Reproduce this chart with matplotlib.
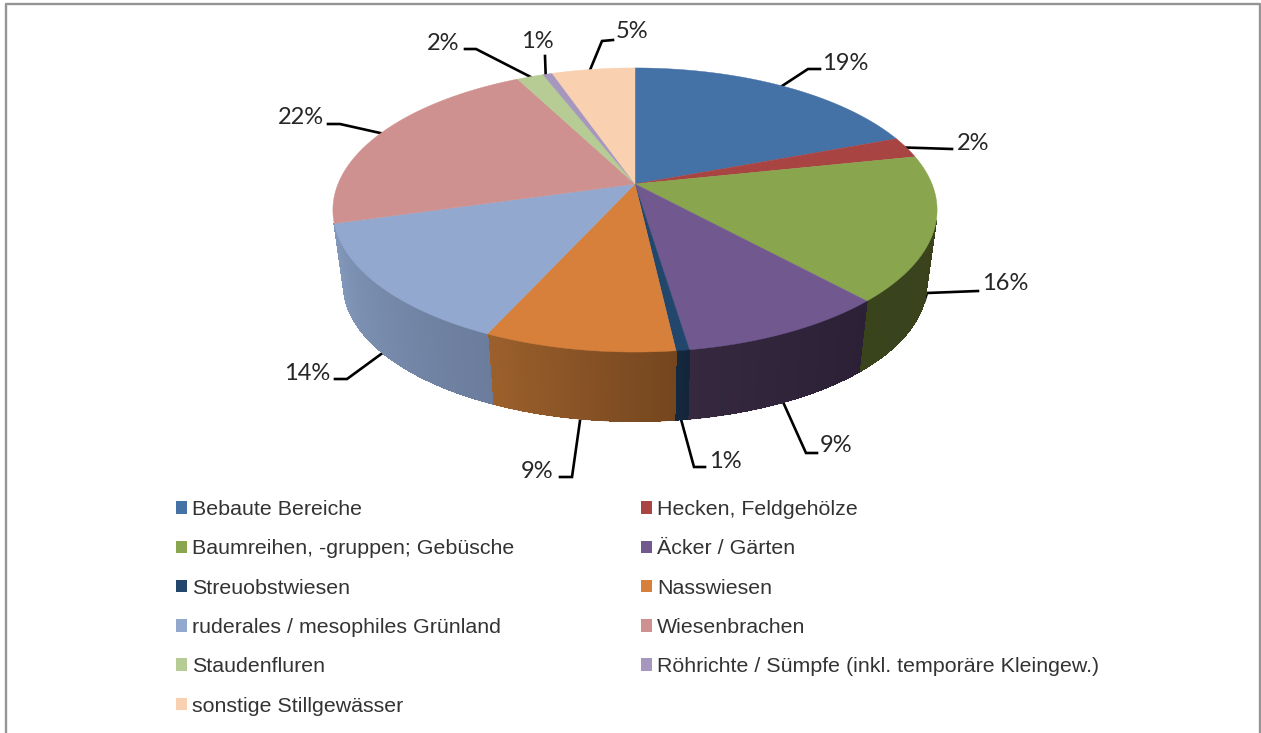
import numpy as np
import matplotlib
matplotlib.use("Agg")
import matplotlib.pyplot as plt
from matplotlib.patches import Patch
from matplotlib.collections import PolyCollection

categories = ["Bebaute Bereiche", "Hecken, Feldgehölze", "Baumreihen, -gruppen; Gebüsche",
              "Äcker / Gärten", "Streuobstwiesen", "Nasswiesen",
              "ruderales / mesophiles Grünland", "Wiesenbrachen", "Staudenfluren",
              "Röhrichte / Sümpfe (inkl. temporäre Kleingew.)", "sonstige Stillgewässer"]
shares = [19.3, 2.4, 16.5, 9.4, 0.6, 8.6, 13.8, 21.8, 1.7, 0.6, 5.3]
labels = ["19%", "2%", "16%", "9%", "1%", "9%", "14%", "22%", "2%", "1%", "5%"]

top_colors = ["#4471A6", "#A84442", "#89A54E", "#71588F", "#23466D", "#D6803B",
              "#92A8CF", "#CE918F", "#B7CC94", "#A597BD", "#F9D0B0"]
# side wall colours per slice, as seen from left to right on the picture
side_left = {2: "#39441D", 3: "#35283F", 4: "#14283F", 5: "#9C602C", 6: "#8298BA"}
side_right = {2: "#3A421C", 3: "#2B2036", 4: "#12253A", 5: "#74461F", 6: "#6B7C9C"}

# layout: elbow point, end point, label centre (pixels), lower rim flag, start offset
leader_layout = [((808, 69), (820, 69), (845, 64), False, (0, 0)),
                 ((921, 148), (952, 149), (973, 143), False, (0, 0)),
                 ((927, 293), (978, 291), (1005, 284), True, (0, 0)),
                 ((806, 453), (817, 453), (836, 446), True, (0, 0)),
                 ((694, 467), (705, 467), (725, 461), True, (0, 0)),
                 ((572, 477), (560, 477), (537, 471), True, (0, 0)),
                 ((347, 379), (335, 379), (307, 374), True, (-3, -6)),
                 ((340, 124), (328, 124), (301, 117), False, (0, 0)),
                 ((476, 49), (465, 49), (443, 43), False, (0, 0)),
                 ((545, 56), (545, 56), (537, 42), False, (-2, 0)),
                 ((602, 41), (613, 40), (632, 32), False, (-3, 0))]

CX, CY, A, B, K = 635, 184, 297, 137.3, 0.183
LOW_CY, LOW_S = 259, 0.965
SIDE_START, SIDE_END = 105, 254.3


def rim(deg, lower=False):
    t = np.radians(deg)
    u, v = np.sin(t), np.cos(t)
    w = 1 + K * v
    s, cy = (LOW_S, LOW_CY) if lower else (1, CY)
    return CX + s * A * u / w, cy - s * B * v / w


def mix(c1, c2, f):
    a = np.array(matplotlib.colors.to_rgb(c1))
    b = np.array(matplotlib.colors.to_rgb(c2))
    return tuple(a + (b - a) * f)


fig = plt.figure(figsize=(12.61, 7.33), dpi=100, facecolor="white")
ax = fig.add_axes([0, 0, 1, 1])
ax.set_xlim(0, 1261)
ax.set_ylim(733, 0)
ax.axis("off")

# chart frame
ax.plot([6, 6, 1260, 1260], [733, 4, 4, 733], color="#959595", lw=1.7, zorder=1)

edges = np.concatenate([[0], np.cumsum(shares)]) / np.sum(shares) * 360

# leader lines (behind the pie)
for i, (elbow, end, lab, lower, off) in enumerate(leader_layout):
    mid = (edges[i] + edges[i + 1]) / 2
    x0, y0 = rim(mid, lower)
    ax.plot([x0 + off[0], elbow[0], end[0]], [y0 + off[1], elbow[1], end[1]], color="black", lw=1.9,
            solid_joinstyle="miter", zorder=2)
    ax.text(lab[0], lab[1], labels[i], ha="center", va="center", fontsize=17,
            family="Lato", color="#262626", zorder=6)

# side wall: angle grows from right to left along the front of the pie
quads, cols = [], []
for i in side_left:
    a0 = max(edges[i], SIDE_START)
    a1 = min(edges[i + 1], SIDE_END)
    n = max(int((a1 - a0) / 0.5), 1)
    steps = np.linspace(a0, a1, n + 1)
    for j in range(n):
        quads.append([rim(steps[j]), rim(steps[j + 1]),
                      rim(steps[j + 1], True), rim(steps[j], True)])
        cols.append(mix(side_left[i], side_right[i], 1 - (j + 0.5) / n))
    ax.plot(*zip(*[rim(a, True) for a in steps]), color=mix(side_left[i], side_right[i], 0.5),
            lw=1.0, zorder=3, solid_capstyle="butt")
ax.add_collection(PolyCollection(quads, facecolors=cols, edgecolors=cols, linewidths=0.5,
                                 antialiaseds=False, zorder=3.1))

# top face
for i, col in enumerate(top_colors):
    steps = np.linspace(edges[i], edges[i + 1], max(int(shares[i] * 6), 4))
    pts = [(CX, CY)] + [rim(a) for a in steps]
    ax.fill(*zip(*pts), facecolor=col, edgecolor=col, lw=0.3, zorder=4)

# legend: two columns, filled column by column
order = [0, 2, 4, 6, 8, 10, 1, 3, 5, 7, 9]
handles = [Patch(facecolor=top_colors[i], edgecolor="none", label=categories[i]) for i in order]
ax.legend(handles=handles, loc="upper left", bbox_to_anchor=(176, 500),
          bbox_transform=ax.transData, ncols=2, frameon=False, borderpad=0, borderaxespad=0,
          prop={"family": "Liberation Sans", "size": 15.4}, labelcolor="#333333",
          handlelength=0.52, handleheight=0.52, handletextpad=0.24,
          labelspacing=0.95, columnspacing=5.9)

fig.savefig("out.png", dpi=100, facecolor="white")
